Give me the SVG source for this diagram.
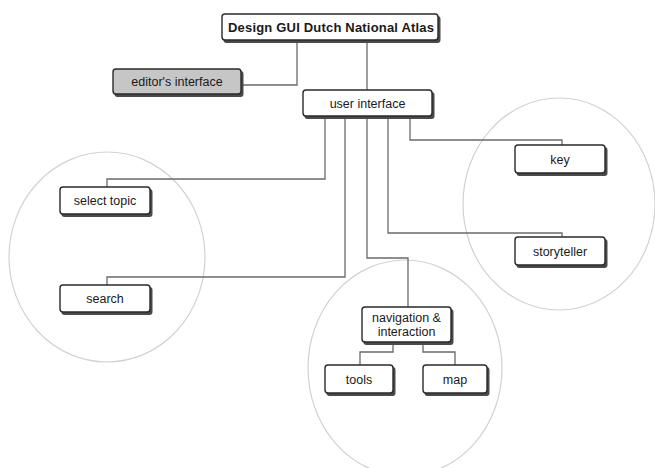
<svg xmlns="http://www.w3.org/2000/svg" width="655" height="468" viewBox="0 0 655 468">
<style>
.bg{fill:#ffffff}
.zone{fill:none;stroke:#d2d2d2;stroke-width:1.2}
.shadow{fill:#4a4a4a}
.box{fill:#ffffff;stroke:#2a2a2a;stroke-width:1.4}
.grey{fill:#c6c6c6}
.lbl{font-family:"Liberation Sans",Arial,sans-serif;font-size:12.5px;fill:#1a1a1a;text-anchor:middle}
.title{font-weight:bold;font-size:13px}
.conn{fill:none;stroke:#6a6a6a;stroke-width:1.3}
</style>
<rect class="bg" x="0" y="0" width="655" height="468"/>
<g id="zones">
<ellipse class="zone" cx="107" cy="257" rx="98" ry="105"/>
<ellipse class="zone" cx="559" cy="204" rx="96" ry="106"/>
<ellipse class="zone" cx="405" cy="368" rx="97" ry="108"/>
</g>
<g id="connectors">
<path class="conn" d="M297 41 V85 H243"/>
<path class="conn" d="M367 41 V90"/>
<path class="conn" d="M325 118 V179 H107 V187"/>
<path class="conn" d="M345 118 V277 H107 V285"/>
<path class="conn" d="M367 118 V258 H408 V307"/>
<path class="conn" d="M388 118 V233 H562 V237"/>
<path class="conn" d="M410 118 V140 H562 V145"/>
<path class="conn" d="M393 343 V352 H360 V365"/>
<path class="conn" d="M423 343 V352 H455 V365"/>
</g>
<g id="n_title">
<rect class="shadow" x="223.5" y="16" width="217" height="27" rx="3"/>
<rect class="box" x="222" y="14" width="216" height="26" rx="3"/>
<text class="lbl title" x="331" y="32" textLength="206" lengthAdjust="spacing">Design GUI Dutch National Atlas</text>
</g>
<g id="n_editor">
<rect class="shadow" x="114.5" y="71" width="129" height="26" rx="3"/>
<rect class="box grey" x="113" y="69" width="128" height="25" rx="3"/>
<text class="lbl" x="177" y="86">editor's interface</text>
</g>
<g id="n_ui">
<rect class="shadow" x="304.5" y="92" width="130" height="27" rx="3"/>
<rect class="box" x="303" y="90" width="129" height="26" rx="3"/>
<text class="lbl" x="367.5" y="108">user interface</text>
</g>
<g id="n_select">
<rect class="shadow" x="61.5" y="189" width="91" height="28" rx="3"/>
<rect class="box" x="60" y="187" width="90" height="27" rx="3"/>
<text class="lbl" x="105" y="205">select topic</text>
</g>
<g id="n_search">
<rect class="shadow" x="61.5" y="287" width="91" height="28" rx="3"/>
<rect class="box" x="60" y="285" width="90" height="27" rx="3"/>
<text class="lbl" x="105" y="303">search</text>
</g>
<g id="n_key">
<rect class="shadow" x="516.5" y="147" width="91" height="29" rx="3"/>
<rect class="box" x="515" y="145" width="90" height="28" rx="3"/>
<text class="lbl" x="560" y="164">key</text>
</g>
<g id="n_story">
<rect class="shadow" x="516.5" y="239" width="91" height="29" rx="3"/>
<rect class="box" x="515" y="237" width="90" height="28" rx="3"/>
<text class="lbl" x="560" y="256">storyteller</text>
</g>
<g id="n_nav">
<rect class="shadow" x="363.5" y="309" width="90" height="36" rx="3"/>
<rect class="box" x="362" y="307" width="89" height="35" rx="3"/>
<text class="lbl" x="406.5" y="322">navigation &amp;</text>
<text class="lbl" x="406.5" y="336">interaction</text>
</g>
<g id="n_tools">
<rect class="shadow" x="326.5" y="367" width="69" height="29" rx="3"/>
<rect class="box" x="325" y="365" width="68" height="28" rx="3"/>
<text class="lbl" x="359" y="384">tools</text>
</g>
<g id="n_map">
<rect class="shadow" x="424.5" y="367" width="65" height="29" rx="3"/>
<rect class="box" x="423" y="365" width="64" height="28" rx="3"/>
<text class="lbl" x="455" y="384">map</text>
</g>
</svg>
